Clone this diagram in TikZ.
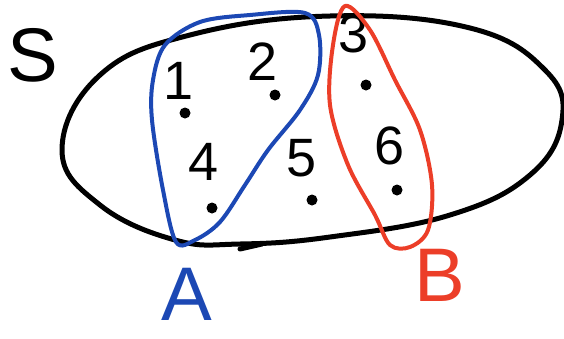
\documentclass[tikz,border=0pt]{standalone}
\usepackage{fontspec}
\setmainfont{Liberation Sans}
\definecolor{penblue}{RGB}{28,72,180}
\definecolor{penred}{RGB}{236,62,40}
\tikzset{
  blackpen/.style={draw=black,line width=5pt,line cap=round,line join=round},
  bluepen/.style={draw=penblue,line width=4pt,line cap=round,line join=round},
  redpen/.style={draw=penred,line width=4pt,line cap=round,line join=round},
  num/.style={inner sep=0pt,font=\fontsize{54}{54}\selectfont},
  pt/.style={circle,fill=black,inner sep=0pt,minimum size=11pt},
  biglabel/.style={inner sep=0pt,font=\fontsize{76}{76}\selectfont}
}
\begin{document}
\begin{tikzpicture}[x=1pt,y=-1pt]
\useasboundingbox (0,0) rectangle (564,338);
% universe S
\draw[blackpen] plot[smooth cycle,tension=0.7] coordinates {
  (62,150) (100,75) (190,35) (330,16) (470,28) (545,70) (562,120)
  (530,175) (450,215) (330,237) (240,244) (175,240) (100,205)};
\draw[blackpen] (240,249) -- (262,244);
\node[biglabel] (S) at (33,55) {S};
% numbers
\node[num] (n1) at (179,81) {1};
\node[num] (n2) at (263,62) {2};
\node[num] (n3) at (354,34) {3};
\node[num] (n4) at (204,162) {4};
\node[num] (n5) at (302,158) {5};
\node[num] (n6) at (390,146) {6};
\node[pt] (d1) at (185,113) {};
\node[pt] (d2) at (275,95) {};
\node[pt] (d3) at (366,85) {};
\node[pt] (d4) at (212,208) {};
\node[pt] (d5) at (312,200) {};
\node[pt] (d6) at (397,190) {};
% set A
\draw[bluepen] plot[smooth cycle,tension=0.55] coordinates {
  (176,242) (163,190) (152,120) (153,80) (165,45) (200,22) (250,15)
  (305,13) (319,35) (318,75) (300,110) (268,150) (245,185) (220,222) (195,240)};
\node[biglabel,text=penblue] (A) at (187,294) {A};
% set B
\draw[redpen] plot[smooth cycle,tension=0.55] coordinates {
  (345,6) (370,30) (395,80) (420,130) (432,185) (428,230) (410,247)
  (390,245) (375,215) (348,165) (330,105) (333,45)};
\node[biglabel,text=penred] (B) at (440,275) {B};
\end{tikzpicture}
\end{document}
